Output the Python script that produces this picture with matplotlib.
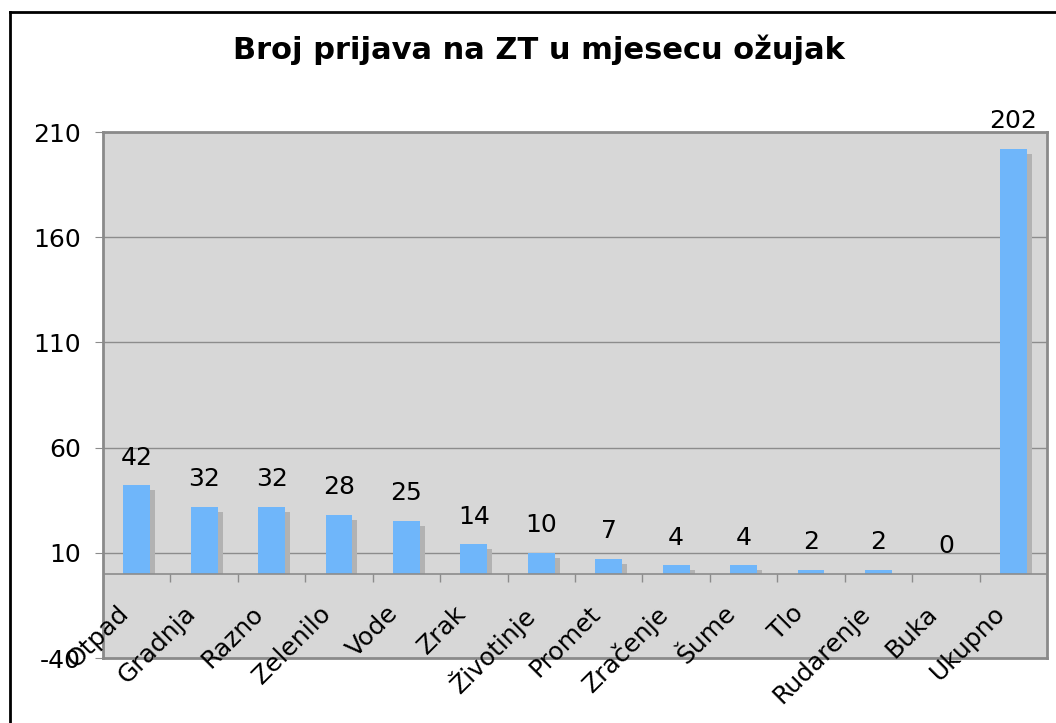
import matplotlib.pyplot as plt
from matplotlib.lines import Line2D

categories = ["Otpad", "Gradnja", "Razno", "Zelenilo", "Vode", "Zrak", "Životinje",
              "Promet", "Zračenje", "Šume", "Tlo", "Rudarenje", "Buka", "Ukupno"]
counts = [42, 32, 32, 28, 25, 14, 10, 7, 4, 4, 2, 2, 0, 202]
yticks = [-40, 10, 60, 110, 160, 210]

bar_col = "#6fb6fa"
shadow_col = "#b2b2b2"
grid_col = "#8c8c8c"

fig = plt.figure(figsize=(10.56, 7.23), dpi=100)
ax = fig.add_axes([103/1056, 65/723, 944/1056, 526/723])
ax.set_facecolor("#d7d7d7")

n = len(categories)
x = list(range(n))
ax.set_xlim(-0.5, n - 0.5)
ax.set_ylim(-40, 210)

# gridlines
for t in yticks[1:]:
    ax.axhline(t, color=grid_col, lw=1, zorder=1)

# shadows, then bars
dx = 5 / 67.4
dy = 5 / 2.1
ax.bar([i + dx for i in x], [max(v - dy, 0) for v in counts], width=0.4,
       color=shadow_col, zorder=2)
ax.bar(x, counts, width=0.4, color=bar_col, zorder=3)

# zero line with category ticks
ax.axhline(0, color=grid_col, lw=1.2, zorder=4)
ax.vlines([i - 0.5 for i in range(n + 1)], -4, 0, color=grid_col, lw=1, zorder=4)

for i, v in enumerate(counts):
    ax.text(i, v + 7.5, str(v), ha="center", va="bottom", fontsize=18, zorder=5)

for i, lab in enumerate(categories):
    ax.text(i - 0.3, -13, lab, rotation=45, rotation_mode="anchor",
            ha="right", va="top", fontsize=18, clip_on=False, zorder=5)

ax.set_xticks([])
ax.set_yticks(yticks)
ax.set_yticklabels([str(t) for t in yticks], fontsize=18)
ax.tick_params(axis="y", length=6, pad=10, color=grid_col)
for s in ax.spines.values():
    s.set_color("#8a8a8a")
    s.set_linewidth(2)

fig.text(539/1056, 1 - 50/723, "Broj prijava na ZT u mjesecu ožujak",
         ha="center", va="center", fontsize=22, fontweight="bold")

# outer frame (top and left edges)
fig.add_artist(Line2D([9.5/1056, 9.5/1056], [0, 1 - 11.5/723], transform=fig.transFigure,
                      color="black", lw=2))
fig.add_artist(Line2D([9.5/1056, 1], [1 - 11.5/723, 1 - 11.5/723], transform=fig.transFigure,
                      color="black", lw=2))

fig.savefig("out.png", dpi=100)
